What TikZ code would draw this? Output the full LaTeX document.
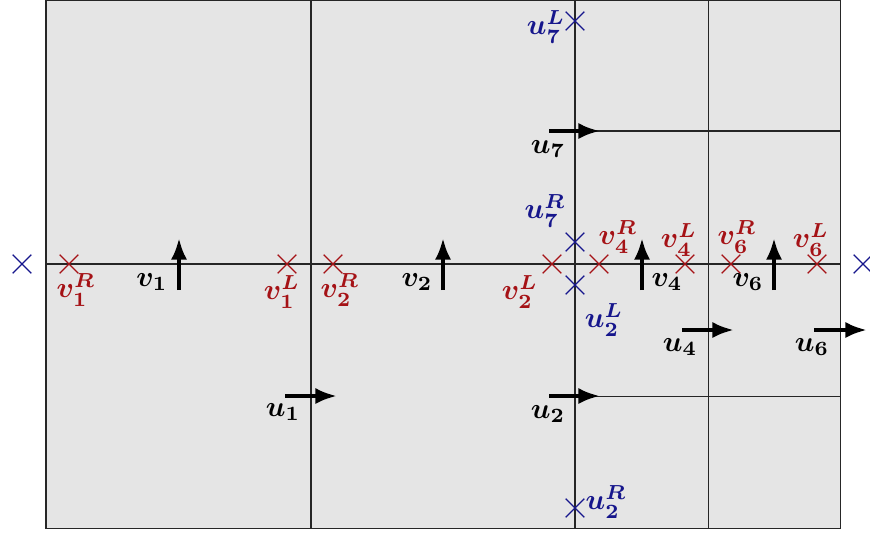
\documentclass[tikz,border=0pt]{standalone}
\usepackage{tikz}
\usetikzlibrary{arrows.meta,shapes.misc}
\usepackage{xcolor}
\definecolor{ptred}{RGB}{165,18,22}
\definecolor{ptblue}{RGB}{22,22,140}
\definecolor{cellbg}{RGB}{229,229,229}
\newcommand{\bsym}[1]{{\boldmath$#1$}}

\begin{document}
\begin{tikzpicture}[
  x=0.345pt, y=-0.345pt,
  grid/.style={line width=0.35pt, black!85},
  xmark/.style={cross out, draw, inner sep=0pt, minimum size=6pt, line width=0.45pt},
  redx/.style={xmark, draw=ptred},
  bluex/.style={xmark, draw=ptblue},
  lab/.style={inner sep=0pt},
  vec/.style={-{Latex[length=7.5pt,width=5.6pt]}, line width=1.4pt, black}
]

\useasboundingbox (0,0) rectangle (870,533);

%% ── Cells ────────────────────────────────────────────────────────────────────
\draw[grid, fill=cellbg] (46,0) rectangle (840,528);
\draw[grid] (311,0) -- (311,528) (575,0) -- (575,528) (708,0) -- (708,528);
\draw[grid] (46,264) -- (840,264) (575,131) -- (840,131) (575,396) -- (840,396);

%% ── Red points on the middle line ────────────────────────────────────────────
\node[redx] (v1R) at (69,264)  {};
\node[redx] (v1L) at (287,264) {};
\node[redx] (v2R) at (333,264) {};
\node[redx] (v2L) at (552,264) {};
\node[redx] (v4R) at (599,264) {};
\node[redx] (v4L) at (685,264) {};
\node[redx] (v6R) at (731,264) {};
\node[redx] (v6L) at (817,264) {};

\node[lab, ptred] (v1Rt) at (76,290)  {\bsym{v_1^R}};
\node[lab, ptred] (v1Lt) at (282,292) {\bsym{v_1^L}};
\node[lab, ptred] (v2Rt) at (340,290) {\bsym{v_2^R}};
\node[lab, ptred] (v2Lt) at (520,292) {\bsym{v_2^L}};
\node[lab, ptred] (v4Rt) at (618,237) {\bsym{v_4^R}};
\node[lab, ptred] (v4Lt) at (679,240) {\bsym{v_4^L}};
\node[lab, ptred] (v6Rt) at (737,237) {\bsym{v_6^R}};
\node[lab, ptred] (v6Lt) at (811,240) {\bsym{v_6^L}};

%% ── Blue points ──────────────────────────────────────────────────────────────
\node[bluex] (left)  at (22,264)  {};
\node[bluex] (right) at (863,264) {};
\node[bluex] (u7L)   at (575,21)  {};
\node[bluex] (u7R)   at (575,242) {};
\node[bluex] (u2L)   at (575,285) {};
\node[bluex] (u2R)   at (575,508) {};

\node[lab, ptblue] (u7Lt) at (546,27)  {\bsym{u_7^L}};
\node[lab, ptblue] (u7Rt) at (545,211) {\bsym{u_7^R}};
\node[lab, ptblue] (u2Lt) at (604,320) {\bsym{u_2^L}};
\node[lab, ptblue] (u2Rt) at (606,502) {\bsym{u_2^R}};

%% ── Vertical vectors ─────────────────────────────────────────────────────────
\coordinate (v1s) at (179,290); \coordinate (v1e) at (179,238);
\coordinate (v2s) at (443,290); \coordinate (v2e) at (443,238);
\coordinate (v4s) at (642,290); \coordinate (v4e) at (642,238);
\coordinate (v6s) at (774,290); \coordinate (v6e) at (774,238);
\draw[vec] (v1s) -- (v1e);
\draw[vec] (v2s) -- (v2e);
\draw[vec] (v4s) -- (v4e);
\draw[vec] (v6s) -- (v6e);

\node[lab] (v1t) at (152,282) {\bsym{v_1}};
\node[lab] (v2t) at (417,282) {\bsym{v_2}};
\node[lab] (v4t) at (667,282) {\bsym{v_4}};
\node[lab] (v6t) at (748,282) {\bsym{v_6}};

%% ── Horizontal vectors ───────────────────────────────────────────────────────
\coordinate (u1s) at (285,396); \coordinate (u1e) at (337,396);
\coordinate (u2s) at (549,396); \coordinate (u2e) at (600,396);
\coordinate (u7s) at (549,131); \coordinate (u7e) at (600,131);
\coordinate (u4s) at (682,330); \coordinate (u4e) at (734,330);
\coordinate (u6s) at (814,330); \coordinate (u6e) at (867,330);
\draw[vec] (u1s) -- (u1e);
\draw[vec] (u2s) -- (u2e);
\draw[vec] (u7s) -- (u7e);
\draw[vec] (u4s) -- (u4e);
\draw[vec] (u6s) -- (u6e);

\node[lab] (u1t) at (283,412) {\bsym{u_1}};
\node[lab] (u2t) at (548,414) {\bsym{u_2}};
\node[lab] (u7t) at (548,149) {\bsym{u_7}};
\node[lab] (u4t) at (680,347) {\bsym{u_4}};
\node[lab] (u6t) at (812,347) {\bsym{u_6}};

\end{tikzpicture}
\end{document}
